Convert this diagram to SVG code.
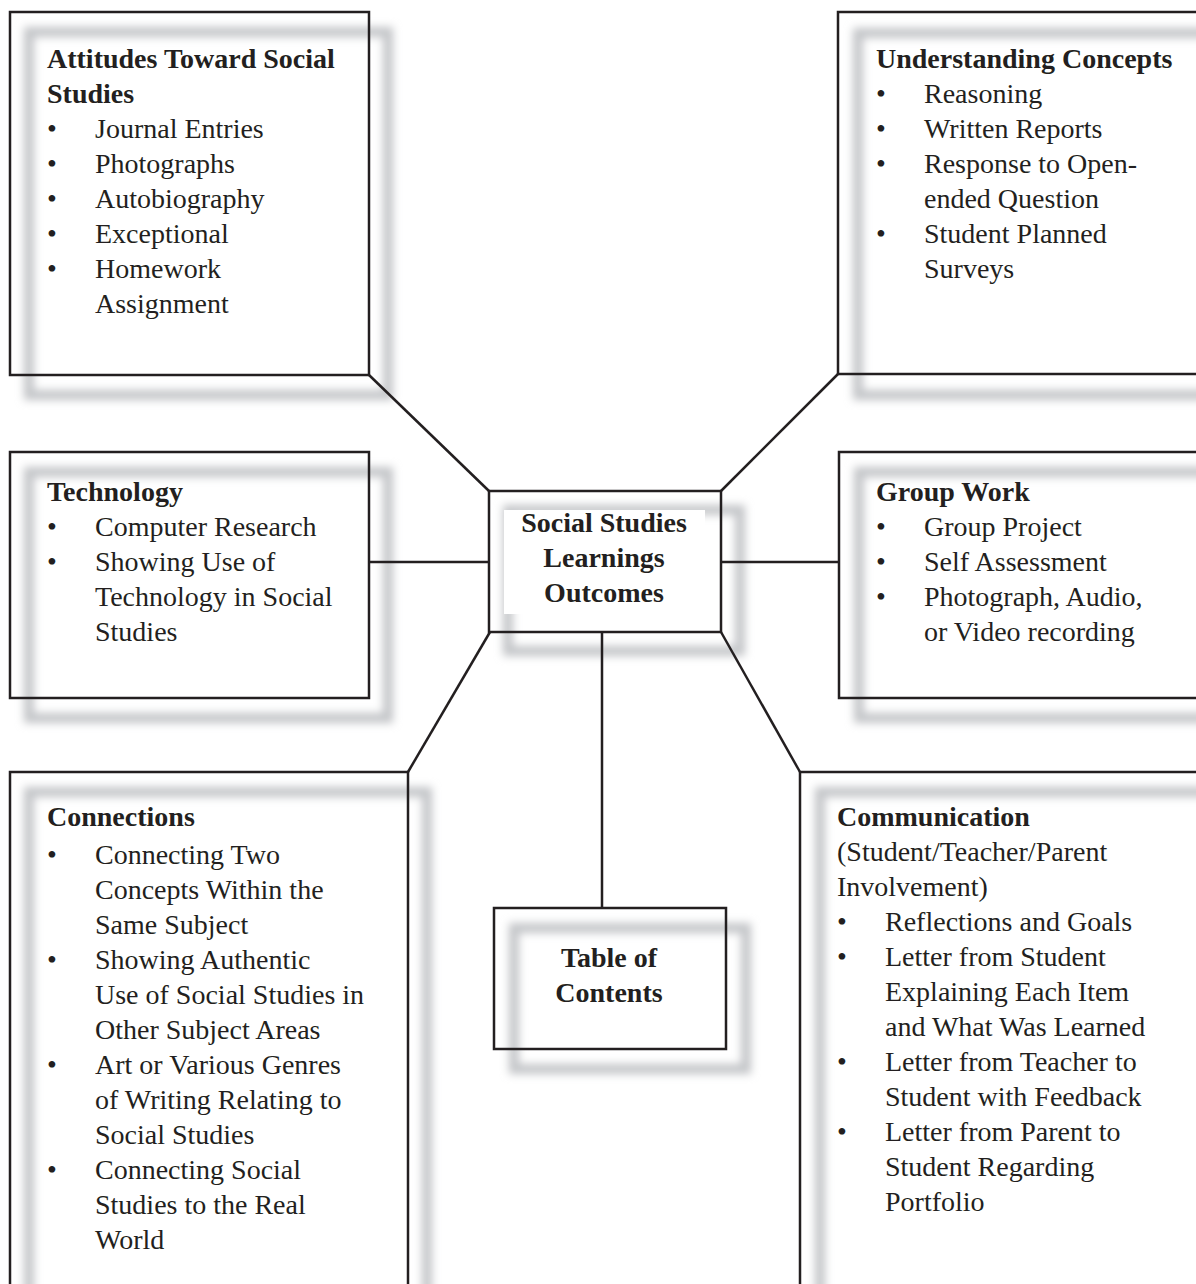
<svg xmlns="http://www.w3.org/2000/svg" width="1196" height="1284" viewBox="0 0 1196 1284">
<defs>
<filter id="blur" x="-20%" y="-20%" width="140%" height="140%"><feGaussianBlur stdDeviation="4"/></filter>
<style>
.sh{fill:none;stroke:#c3c5c8;stroke-width:10;filter:url(#blur)}
.bx{fill:none;stroke:#231f20;stroke-width:2.5}
.cn{stroke:#231f20;stroke-width:2.5;fill:none}
text{font-family:"Liberation Serif","Times New Roman",serif;font-size:28px;fill:#231f20}
.h{font-weight:bold}
.c{text-anchor:middle}
</style>
</defs>
<rect width="1196" height="1284" fill="#fff"/>

<g id="attitudes">
<rect class="sh" x="29" y="32" width="359" height="363"/>
<rect class="bx" x="10" y="12" width="359" height="363"/>
<text class="h" x="47" y="68">Attitudes Toward Social</text>
<text class="h" x="47" y="103">Studies</text>
<text x="47" y="138">•</text><text x="95" y="138">Journal Entries</text>
<text x="47" y="173">•</text><text x="95" y="173">Photographs</text>
<text x="47" y="208">•</text><text x="95" y="208">Autobiography</text>
<text x="47" y="243">•</text><text x="95" y="243">Exceptional</text>
<text x="47" y="278">•</text><text x="95" y="278">Homework</text>
<text x="95" y="313">Assignment</text>
</g>

<g id="understanding">
<rect class="sh" x="858" y="33" width="400" height="362"/>
<rect class="bx" x="838" y="12" width="400" height="362"/>
<text class="h" x="876" y="68">Understanding Concepts</text>
<text x="876" y="103">•</text><text x="924" y="103">Reasoning</text>
<text x="876" y="138">•</text><text x="924" y="138">Written Reports</text>
<text x="876" y="173">•</text><text x="924" y="173">Response to Open-</text>
<text x="924" y="208">ended Question</text>
<text x="876" y="243">•</text><text x="924" y="243">Student Planned</text>
<text x="924" y="278">Surveys</text>
</g>

<g id="technology">
<rect class="sh" x="29" y="472" width="359" height="246"/>
<rect class="bx" x="10" y="452" width="359" height="246"/>
<text class="h" x="47" y="501">Technology</text>
<text x="47" y="536">•</text><text x="95" y="536">Computer Research</text>
<text x="47" y="571">•</text><text x="95" y="571">Showing Use of</text>
<text x="95" y="606">Technology in Social</text>
<text x="95" y="641">Studies</text>
</g>

<g id="groupwork">
<rect class="sh" x="859" y="472" width="400" height="246"/>
<rect class="bx" x="839" y="452" width="400" height="246"/>
<text class="h" x="876" y="501">Group Work</text>
<text x="876" y="536">•</text><text x="924" y="536">Group Project</text>
<text x="876" y="571">•</text><text x="924" y="571">Self Assessment</text>
<text x="876" y="606">•</text><text x="924" y="606">Photograph, Audio,</text>
<text x="924" y="641">or Video recording</text>
</g>

<g id="center">
<rect class="sh" x="508" y="510" width="232" height="141"/>
<rect x="504" y="510" width="201" height="104" fill="#fff"/>
<rect class="bx" x="489" y="491" width="232" height="141"/>
<text class="h c" x="604" y="532">Social Studies</text>
<text class="h c" x="604" y="567">Learnings</text>
<text class="h c" x="604" y="602">Outcomes</text>
</g>

<g id="connections">
<rect class="sh" x="29" y="792" width="398" height="540"/>
<rect class="bx" x="10" y="772" width="398" height="540"/>
<text class="h" x="47" y="826">Connections</text>
<text x="47" y="864">•</text><text x="95" y="864">Connecting Two</text>
<text x="95" y="899">Concepts Within the</text>
<text x="95" y="934">Same Subject</text>
<text x="47" y="969">•</text><text x="95" y="969">Showing Authentic</text>
<text x="95" y="1004">Use of Social Studies in</text>
<text x="95" y="1039">Other Subject Areas</text>
<text x="47" y="1074">•</text><text x="95" y="1074">Art or Various Genres</text>
<text x="95" y="1109">of Writing Relating to</text>
<text x="95" y="1144">Social Studies</text>
<text x="47" y="1179">•</text><text x="95" y="1179">Connecting Social</text>
<text x="95" y="1214">Studies to the Real</text>
<text x="95" y="1249">World</text>
</g>

<g id="communication">
<rect class="sh" x="820" y="792" width="420" height="540"/>
<rect class="bx" x="800" y="772" width="420" height="540"/>
<text class="h" x="837" y="826">Communication</text>
<text x="837" y="861">(Student/Teacher/Parent</text>
<text x="837" y="896">Involvement)</text>
<text x="837" y="931">•</text><text x="885" y="931">Reflections and Goals</text>
<text x="837" y="966">•</text><text x="885" y="966">Letter from Student</text>
<text x="885" y="1001">Explaining Each Item</text>
<text x="885" y="1036">and What Was Learned</text>
<text x="837" y="1071">•</text><text x="885" y="1071">Letter from Teacher to</text>
<text x="885" y="1106">Student with Feedback</text>
<text x="837" y="1141">•</text><text x="885" y="1141">Letter from Parent to</text>
<text x="885" y="1176">Student Regarding</text>
<text x="885" y="1211">Portfolio</text>
</g>

<g id="toc">
<rect class="sh" x="514" y="928" width="232" height="141"/>
<rect class="bx" x="494" y="908" width="232" height="141"/>
<text class="h c" x="609" y="967">Table of</text>
<text class="h c" x="609" y="1002">Contents</text>
</g>

<g id="connectors" class="cn">
<line x1="369" y1="375" x2="489" y2="491"/>
<line x1="838" y1="374" x2="721" y2="491"/>
<line x1="369" y1="562" x2="489" y2="562"/>
<line x1="721" y1="562" x2="839" y2="562"/>
<line x1="490" y1="632" x2="408" y2="772"/>
<line x1="602" y1="632" x2="602" y2="908"/>
<line x1="721" y1="632" x2="800" y2="772"/>
</g>
</svg>
